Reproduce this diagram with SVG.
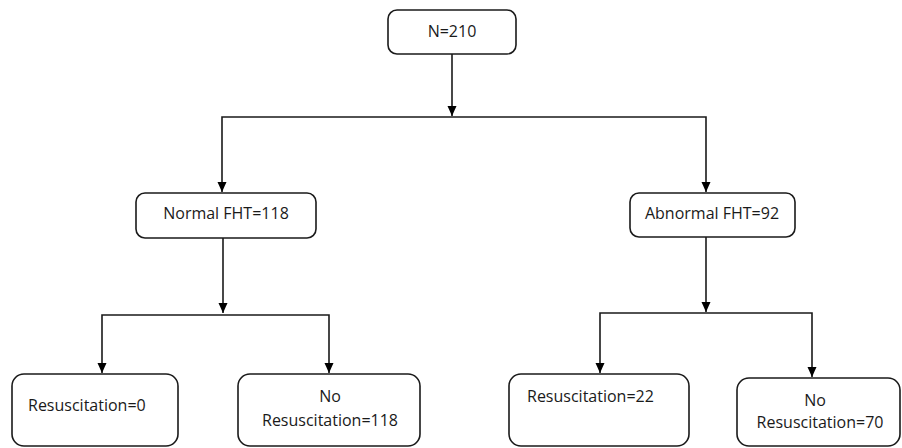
<svg xmlns="http://www.w3.org/2000/svg" width="902" height="448" viewBox="0 0 902 448">
  <style>
    .box { fill: #ffffff; stroke: #1a1a1a; stroke-width: 1.6; }
    .lbl { font-family: "Open Sans", "Liberation Sans", sans-serif; font-size: 16px; fill: #1a1a1a; }
    .c { text-anchor: middle; }
    .wire { fill: none; stroke: #1a1a1a; stroke-width: 1.6; }
  </style>
  <defs>
    <marker id="arr" markerUnits="userSpaceOnUse" markerWidth="11" markerHeight="10" refX="10" refY="4.5" orient="auto">
      <path d="M0,0 L10,4.5 L0,9 z" fill="#000"/>
    </marker>
  </defs>
  <rect width="902" height="448" fill="#ffffff"/>

  <g id="connectors">
    <path class="wire" d="M452,54 V116" marker-end="url(#arr)"/>
    <path class="wire" d="M452,117 H222 V192" marker-end="url(#arr)"/>
    <path class="wire" d="M452,117 H706 V192" marker-end="url(#arr)"/>
    <path class="wire" d="M223,238 V313" marker-end="url(#arr)"/>
    <path class="wire" d="M223,315 H102 V373" marker-end="url(#arr)"/>
    <path class="wire" d="M223,315 H329 V373" marker-end="url(#arr)"/>
    <path class="wire" d="M706,237 V312" marker-end="url(#arr)"/>
    <path class="wire" d="M706,313 H600 V373" marker-end="url(#arr)"/>
    <path class="wire" d="M706,313 H812 V377" marker-end="url(#arr)"/>
  </g>

  <g id="n210">
    <rect class="box" x="388" y="10" width="128" height="44" rx="9"/>
    <text class="lbl c" x="452" y="37">N=210</text>
  </g>
  <g id="normal">
    <rect class="box" x="136" y="193" width="180" height="45" rx="9"/>
    <text class="lbl c" x="226" y="219">Normal FHT=118</text>
  </g>
  <g id="abnormal">
    <rect class="box" x="630" y="193" width="165" height="44" rx="9"/>
    <text class="lbl c" x="712" y="219">Abnormal FHT=92</text>
  </g>
  <g id="res0">
    <rect class="box" x="12" y="374" width="166" height="72" rx="12"/>
    <text class="lbl" x="28" y="411">Resuscitation=0</text>
  </g>
  <g id="nores118">
    <rect class="box" x="238" y="374" width="182" height="72" rx="12"/>
    <text class="lbl c" x="330" y="402">No</text>
    <text class="lbl c" x="330" y="426">Resuscitation=118</text>
  </g>
  <g id="res22">
    <rect class="box" x="509" y="374" width="180" height="72" rx="12"/>
    <text class="lbl" x="527" y="402">Resuscitation=22</text>
  </g>
  <g id="nores70">
    <rect class="box" x="737" y="378" width="163" height="68" rx="12"/>
    <text class="lbl c" x="815" y="406">No</text>
    <text class="lbl c" x="820" y="428">Resuscitation=70</text>
  </g>
</svg>
